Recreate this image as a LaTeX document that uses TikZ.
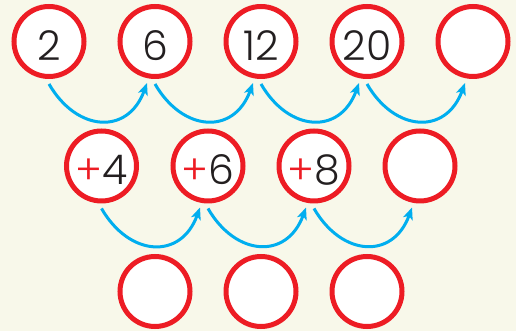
\documentclass[tikz,border=0pt]{standalone}
\usepackage{fontspec}
\IfFontExistsTF{Poppins Light}{\setmainfont{Poppins Light}}{\setmainfont{Poppins}}
\usetikzlibrary{arrows.meta}
\definecolor{bgcream}{HTML}{F8F8EA}
\definecolor{ringred}{HTML}{ED1C24}
\definecolor{arrowblue}{HTML}{00AEEF}
\definecolor{digitgray}{HTML}{231F20}
\newcommand{\plus}{\textcolor{ringred}{+}}
\tikzset{ring/.style={circle,draw=ringred,line width=5pt,fill=white,minimum size=70pt,
    inner sep=0pt,font=\fontsize{41}{41}\selectfont,text=digitgray,text height=38pt},
    hop/.style={draw=arrowblue,line width=3pt,-{Stealth[length=12pt,width=10pt,inset=3pt]},
    out=-60,in=-110,looseness=1.45}}

\begin{document}
\begin{tikzpicture}[x=1pt,y=1pt]
    \fill[bgcream] (0,0) rectangle (516,331);
    \useasboundingbox (0,0) rectangle (516,331);
    \foreach \pos/\name/\num in {{(49,289.5)/t1/2}, {(155,289.5)/t2/6}, {(261,289.5)/t3/12},
        {(367,289.5)/t4/20}, {(473,289.5)/t5/}, {(101.5,165)/m1/\plus4}, {(208,165)/m2/\plus6},
        {(314,165)/m3/\plus8}, {(420,165)/m4/}, {(155,39.5)/b1/}, {(261,39.5)/b2/}, {(367,39.5)/b3/}}
                \node[ring] (\name) at \pos {\num};

 \foreach \source/ \dest in {t1/t2, t2/t3, t3/t4, t4/t5, m1/m2, m2/m3, m3/m4}
              \draw[hop] ([yshift=-5pt]\source.south) to ([xshift=-8pt,yshift=-4pt]\dest.south);
\end{tikzpicture}
\end{document}
